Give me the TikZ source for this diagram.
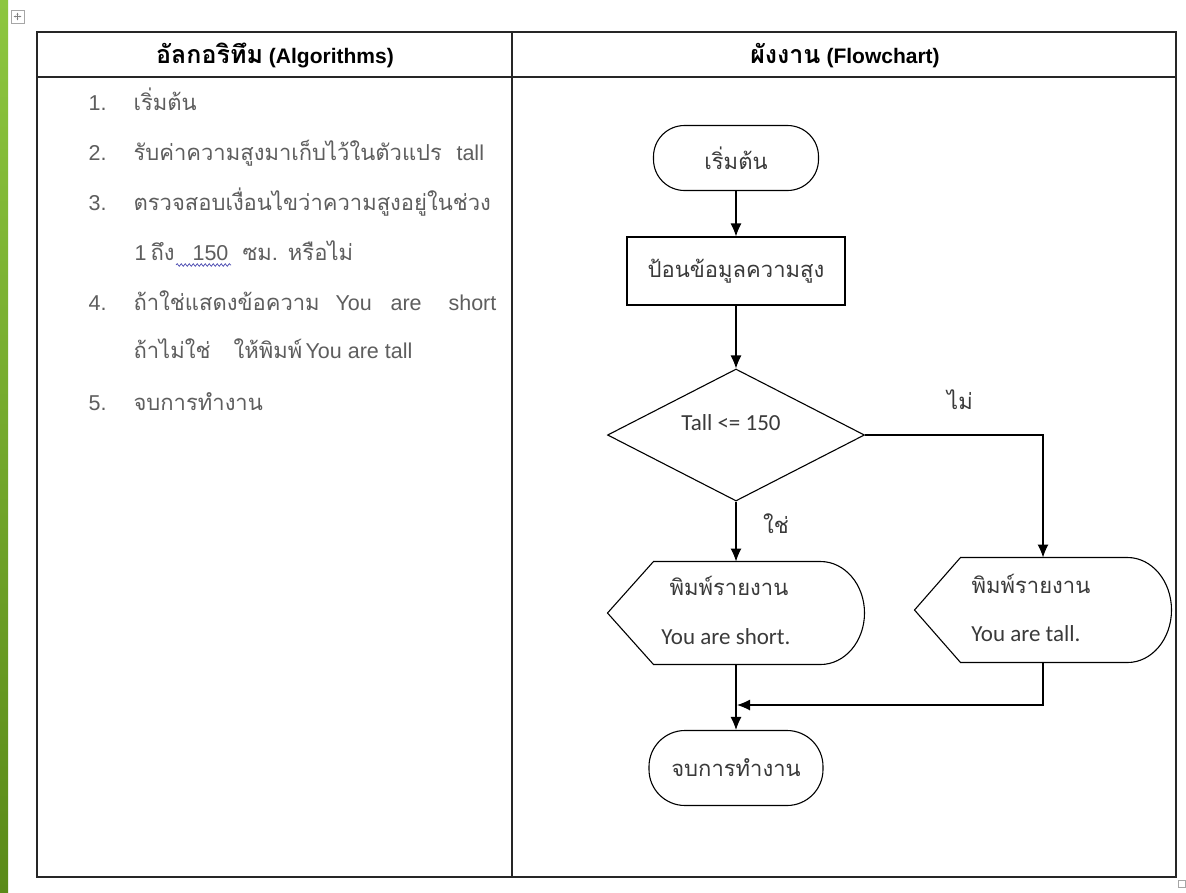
\documentclass[tikz,border=0pt]{standalone}
\usepackage{fontspec}
\usepackage{tikz}
\usetikzlibrary{arrows.meta}
\usetikzlibrary{shapes.geometric}
\usetikzlibrary{decorations.pathmorphing}
\newfontfamily\thaifont[Script=Thai]{Loma}
\newfontfamily\arialfont{Liberation Sans}
\newfontfamily\calibrifont{Carlito}
\definecolor{algray}{HTML}{5E5E5E}
\definecolor{flowgray}{HTML}{3A3A3A}
\definecolor{bartop}{HTML}{8DC63F}
\definecolor{barbot}{HTML}{5A8A18}
\newcommand{\algsize}{\fontsize{22}{26}\selectfont}
\newcommand{\flowsize}{\fontsize{22}{26}\selectfont}

\tikzset{
  algth/.style={anchor=base west,inner sep=0pt,text=algray,font=\thaifont\algsize},
  algla/.style={anchor=base west,inner sep=0pt,text=algray,font=\arialfont\fontsize{21.5}{26}\selectfont},
  headbox/.style={anchor=base,inner sep=0pt,font=\bfseries},
  term/.style={draw,rectangle,rounded corners=31pt,text=flowgray,font=\thaifont\flowsize},
  procbox/.style={draw,rectangle,text=flowgray,font=\thaifont\flowsize},
  dispbox/.style={rectangle,outer sep=0pt,inner sep=0pt},
  flowla/.style={anchor=base,inner sep=0pt,text=flowgray,font=\calibrifont\fontsize{23}{26}\selectfont},
  flowth/.style={anchor=base,inner sep=0pt,text=flowgray,font=\thaifont\flowsize},
  arr/.style={-{Latex[length=13pt,width=11pt]}}
}

\begin{document}
\begin{tikzpicture}[x=1pt,y=-1pt,line width=1.1pt]
\useasboundingbox (0,0) rectangle (1186,892);
\fill[white] (0,0) rectangle (1186,892);

% green bar at the left edge
\shade[top color=bartop,bottom color=barbot] (0,0) rectangle (8,892);

% table handles
\draw[gray!70,line width=0.6pt,fill=white] (11,10) rectangle (24,23);
\draw[gray,line width=0.6pt,{Latex[length=2pt,width=2pt]}-{Latex[length=2pt,width=2pt]}] (13.5,16.5) -- (21.5,16.5);
\draw[gray,line width=0.6pt,{Latex[length=2pt,width=2pt]}-{Latex[length=2pt,width=2pt]}] (17.5,12.5) -- (17.5,20.5);
\draw[gray!70,line width=0.6pt,fill=white] (1178,880) rectangle (1185,887);

% table
\draw[black!85,line width=1.4pt] (37,32) rectangle (1176,877);
\draw[black!85,line width=1.4pt] (37,77) -- (1176,77);
\draw[black!85,line width=1.4pt] (512,32) -- (512,877);

\node[headbox] (head1) at (275,63)
  {{\thaifont\fontsize{25}{28}\selectfont อัลกอริทึม}\hspace{6pt}{\arialfont\fontsize{21}{24}\selectfont (Algorithms)}};
\node[headbox] (head2) at (845,63)
  {{\thaifont\fontsize{25}{28}\selectfont ผังงาน}\hspace{6pt}{\arialfont\fontsize{21}{24}\selectfont (Flowchart)}};

% algorithm steps
\node[algla] (n1) at (88,110) {1.};
\node[algth] (s1) at (133,110) {เริ่มต้น};
\node[algla] (n2) at (88,160) {2.};
\node[algth] (s2) at (133,160) {รับค่าความสูงมาเก็บไว้ในตัวแปร};
\node[algla] (s2b) at (456,160) {tall};
\node[algla] (n3) at (88,210) {3.};
\node[algth] (s3) at (133,210) {ตรวจสอบเงื่อนไขว่าความสูงอยู่ในช่วง};
\node[algla] (s3a) at (134,260) {1};
\node[algth] (s3b) at (150,260) {ถึง};
\node[algla] (s3c) at (192,260) {150};
\node[algth] (s3d) at (242,260) {ซม. หรือไม่};
\draw[blue!40!gray,line width=0.7pt,decorate,decoration={snake,amplitude=1.3pt,segment length=4pt}] (176,265) -- (231,265);
\node[algla] (n4) at (88,310) {4.};
\node[algth] (s4) at (133,310) {ถ้าใช่แสดงข้อความ};
\node[algla] (s4b) at (335,310) {You};
\node[algla] (s4c) at (390,310) {are};
\node[algla] (s4d) at (448,310) {short};
\node[algth] (s4e) at (133,358) {ถ้าไม่ใช่};
\node[algth] (s4f) at (233,358) {ให้พิมพ์};
\node[algla] (s4g) at (305,358) {You are tall};
\node[algla] (n5) at (88,410) {5.};
\node[algth] (s5) at (133,410) {จบการทำงาน};

% flowchart
\node[term,minimum width=165pt,minimum height=65pt] (start) at (736,158) {เริ่มต้น};
\node[procbox,minimum width=218pt,minimum height=68pt] (input) at (736,271) {ป้อนข้อมูลความสูง};
\node[draw,diamond,minimum width=257pt,minimum height=132pt,inner sep=0pt] (dec) at (736,435) {};
\node[flowla] (dectext) at (731,430) {Tall <= 150};

\node[dispbox,minimum width=257pt,minimum height=103pt] (short) at (736,613) {};
\draw (short.west) -- ([xshift=46pt]short.north west) -- ([xshift=-44pt]short.north east)
  arc[start angle=90,end angle=-90,x radius=44pt,y radius=51.5pt] -- ([xshift=46pt]short.south west) -- cycle;
\node[flowth] (shorta) at (729,595) {พิมพ์รายงาน};
\node[flowla] (shortb) at (726,644) {You are short.};

\node[dispbox,minimum width=257pt,minimum height=105pt] (tall) at (1043,610) {};
\draw (tall.west) -- ([xshift=46pt]tall.north west) -- ([xshift=-44pt]tall.north east)
  arc[start angle=90,end angle=-90,x radius=44pt,y radius=52.5pt] -- ([xshift=46pt]tall.south west) -- cycle;
\node[flowth] (talla) at (1031,593) {พิมพ์รายงาน};
\node[flowla] (tallb) at (1026,641) {You are tall.};

\node[term,minimum width=174pt,minimum height=75pt,rounded corners=36pt] (stop) at (736,768) {จบการทำงาน};

\node[flowth] (yes) at (776,533) {ใช่};
\node[flowth] (no) at (960,409) {ไม่};

\coordinate (join) at (736,705);
\draw[arr] (start) -- (input);
\draw[arr] (input) -- (dec);
\draw[arr] (dec.south) -- (short.north);
\draw[arr] (dec.east) -| (tall.north);
\draw[arr] (short.south) -- (stop.north);
\draw[arr,shorten >=1pt] (tall.south) |- (join);

\end{tikzpicture}
\end{document}
